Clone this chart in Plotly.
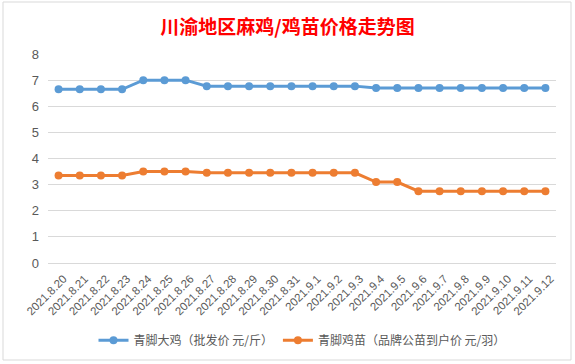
import plotly.graph_objects as go

dates = ["2021.8.20", "2021.8.21", "2021.8.22", "2021.8.23", "2021.8.24", "2021.8.25",
         "2021.8.26", "2021.8.27", "2021.8.28", "2021.8.29", "2021.8.30", "2021.8.31",
         "2021.9.1", "2021.9.2", "2021.9.3", "2021.9.4", "2021.9.5", "2021.9.6",
         "2021.9.7", "2021.9.8", "2021.9.9", "2021.9.10", "2021.9.11", "2021.9.12"]
chicken = [6.65, 6.65, 6.65, 6.65, 7.0, 7.0, 7.0, 6.77, 6.77, 6.77, 6.77, 6.77,
           6.77, 6.77, 6.77, 6.7, 6.7, 6.7, 6.7, 6.7, 6.7, 6.7, 6.7, 6.7]
chick = [3.35, 3.35, 3.35, 3.35, 3.5, 3.5, 3.5, 3.45, 3.45, 3.45, 3.45, 3.45,
         3.45, 3.45, 3.45, 3.1, 3.1, 2.75, 2.75, 2.75, 2.75, 2.75, 2.75, 2.75]
name1 = "青脚大鸡（批发价 元/斤）"
name2 = "青脚鸡苗（品牌公苗到户价 元/羽）"
title = "川渝地区麻鸡/鸡苗价格走势图"

fig = go.Figure()
fig.add_trace(go.Scatter(x=dates, y=chicken, name=name1, mode="lines+markers",
                         line=dict(color="#5B9BD5", width=3),
                         marker=dict(size=8, color="#5B9BD5")))
fig.add_trace(go.Scatter(x=dates, y=chick, name=name2, mode="lines+markers",
                         line=dict(color="#ED7D31", width=3),
                         marker=dict(size=8, color="#ED7D31")))

fig.update_layout(
    width=575, height=364,
    margin=dict(l=48, r=19, t=54, b=101, autoexpand=False),
    paper_bgcolor="white", plot_bgcolor="white",
    title=dict(text="<b>" + title + "</b>", x=0.5, xanchor="center", y=0.925, yanchor="middle",
               font=dict(family="Noto Sans CJK SC", size=19, color="#FF0000")),
    font=dict(family="Noto Sans CJK SC", color="#595959"),
    showlegend=True,
    legend=dict(orientation="h", x=0.5, xanchor="center", y=-0.37, yanchor="middle",
                font=dict(size=12, color="#595959"), itemwidth=30, tracegroupgap=0),
    xaxis=dict(type="category", tickangle=-45, automargin=False,
               tickfont=dict(family="Liberation Sans", size=11.5, color="#595959"),
               ticklabelstandoff=6, ticklabelshift=5,
               showgrid=False, showline=False, ticks="", range=[-0.5, 23.5]),
    yaxis=dict(range=[0, 8], dtick=1, showgrid=True, gridcolor="#D9D9D9", gridwidth=1,
               automargin=False,
               zeroline=True, zerolinecolor="#D9D9D9", zerolinewidth=1,
               tickfont=dict(family="Liberation Sans", size=13, color="#595959"),
               ticks="", ticklabelstandoff=8),
    shapes=[dict(type="rect", xref="paper", yref="paper",
                 x0=-45/508, x1=(571-48)/508, y0=-(360-263)/209, y1=(263-2)/209,
                 line=dict(color="#D9D9D9", width=1), fillcolor="rgba(0,0,0,0)", layer="below")],
)

fig.write_html("out.html", config={"displayModeBar": False},
               post_script="document.body.style.margin='0';document.body.style.overflow='hidden';")
